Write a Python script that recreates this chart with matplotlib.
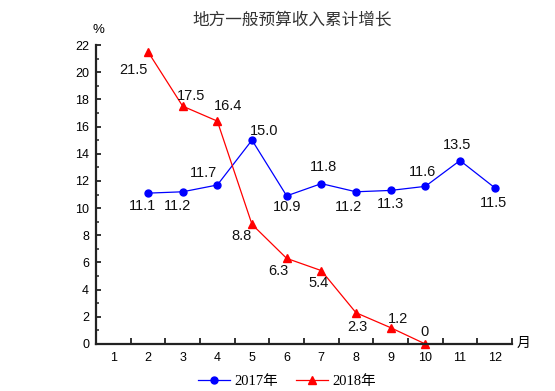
import matplotlib
matplotlib.use("Agg")
import matplotlib.pyplot as plt
from matplotlib.ticker import MultipleLocator, FixedLocator

plt.rcParams['font.family'] = ['Liberation Sans', 'Noto Sans CJK SC', 'DejaVu Sans']

title = "地方一般预算收入累计增长"
months = list(range(1, 13))
months_2017 = [2, 3, 4, 5, 6, 7, 8, 9, 10, 11, 12]
values_2017 = [11.1, 11.2, 11.7, 15.0, 10.9, 11.8, 11.2, 11.3, 11.6, 13.5, 11.5]
months_2018 = [2, 3, 4, 5, 6, 7, 8, 9, 10]
values_2018 = [21.5, 17.5, 16.4, 8.8, 6.3, 5.4, 2.3, 1.2, 0]
labels_2017 = ["11.1", "11.2", "11.7", "15.0", "10.9", "11.8", "11.2", "11.3", "11.6", "13.5", "11.5"]
labels_2018 = ["21.5", "17.5", "16.4", "8.8", "6.3", "5.4", "2.3", "1.2", "0"]
series_names = ["2017年", "2018年"]

# label offsets in pixels (dx right, dy down)
off_2017 = [(-5, 13), (-5, 14), (-14, -12), (12, -9), (0, 11), (2, -17), (-7, 15), (0, 14), (-3, -14), (-3, -16), (-1, 15)]
off_2018 = [(-15, 18), (8, -10), (11, -15), (-10, 12), (-8, 13), (-3, 12), (1, 14), (7, -9), (-1, -12)]

W, H = 555, 391
fig = plt.figure(figsize=(W / 100, H / 100), dpi=100)
ax = fig.add_axes([96 / W, 1 - 344 / H, (512 - 96) / W, (344 - 45) / H])

l1, = ax.plot(months_2017, values_2017, color='#0000FF', lw=0.9, marker='o', ms=5, clip_on=False, label=series_names[0])
l2, = ax.plot(months_2018, values_2018, color='#FF0000', lw=0.9, marker='^', ms=6, clip_on=False, label=series_names[1])

k = 0.72
for m, v, t, (dx, dy) in zip(months_2017, values_2017, labels_2017, off_2017):
    ax.annotate(t, (m, v), xytext=(dx * k, -dy * k), textcoords='offset points',
                ha='center', va='center', fontsize=10.5, color='#111111')
for m, v, t, (dx, dy) in zip(months_2018, values_2018, labels_2018, off_2018):
    ax.annotate(t, (m, v), xytext=(dx * k, -dy * k), textcoords='offset points',
                ha='center', va='center', fontsize=10.5, color='#111111')

ax.set_xlim(0.5, 12.5)
ax.set_ylim(0, 22)
for s in ['top', 'right']:
    ax.spines[s].set_visible(False)
for s in ['left', 'bottom']:
    ax.spines[s].set_linewidth(1.6)
    ax.spines[s].set_color('#222222')

ax.xaxis.set_major_locator(FixedLocator(months))
ax.set_xticklabels([str(m) for m in months])
ax.xaxis.set_minor_locator(FixedLocator([m + 0.5 for m in range(0, 13)]))
ax.tick_params(axis='x', which='major', length=0, pad=6, labelsize=9)
ax.tick_params(axis='x', which='minor', direction='in', length=4, width=1.3, color='#222222')

ax.yaxis.set_major_locator(MultipleLocator(2))
ax.yaxis.set_minor_locator(MultipleLocator(1))
ax.tick_params(axis='y', which='major', direction='in', length=3.5, width=1.3, pad=5, labelsize=9, color='#222222')
ax.tick_params(axis='y', which='minor', direction='in', length=2.2, width=1.1, color='#222222')

fig.text(0.5 * (205 + 379) / W, 1 - 20 / H, title, ha='center', va='center', fontsize=12,
         family=['Noto Sans CJK SC'], color='#333333')
fig.text(98 / W, 1 - 30 / H, "%", ha='center', va='center', fontsize=9.5)
fig.text(524 / W, 1 - 343 / H, "月", ha='center', va='center', fontsize=10,
         family=['Noto Sans CJK SC'])

fig.legend(handles=[l1, l2], loc='center', bbox_to_anchor=(287 / W, 1 - 381 / H), ncol=2,
           frameon=False, handlelength=2.2, columnspacing=1.2, handletextpad=0.3,
           prop={'family': ['Liberation Serif', 'Noto Sans CJK SC'], 'size': 10.5})

fig.savefig("out.png", dpi=100)
